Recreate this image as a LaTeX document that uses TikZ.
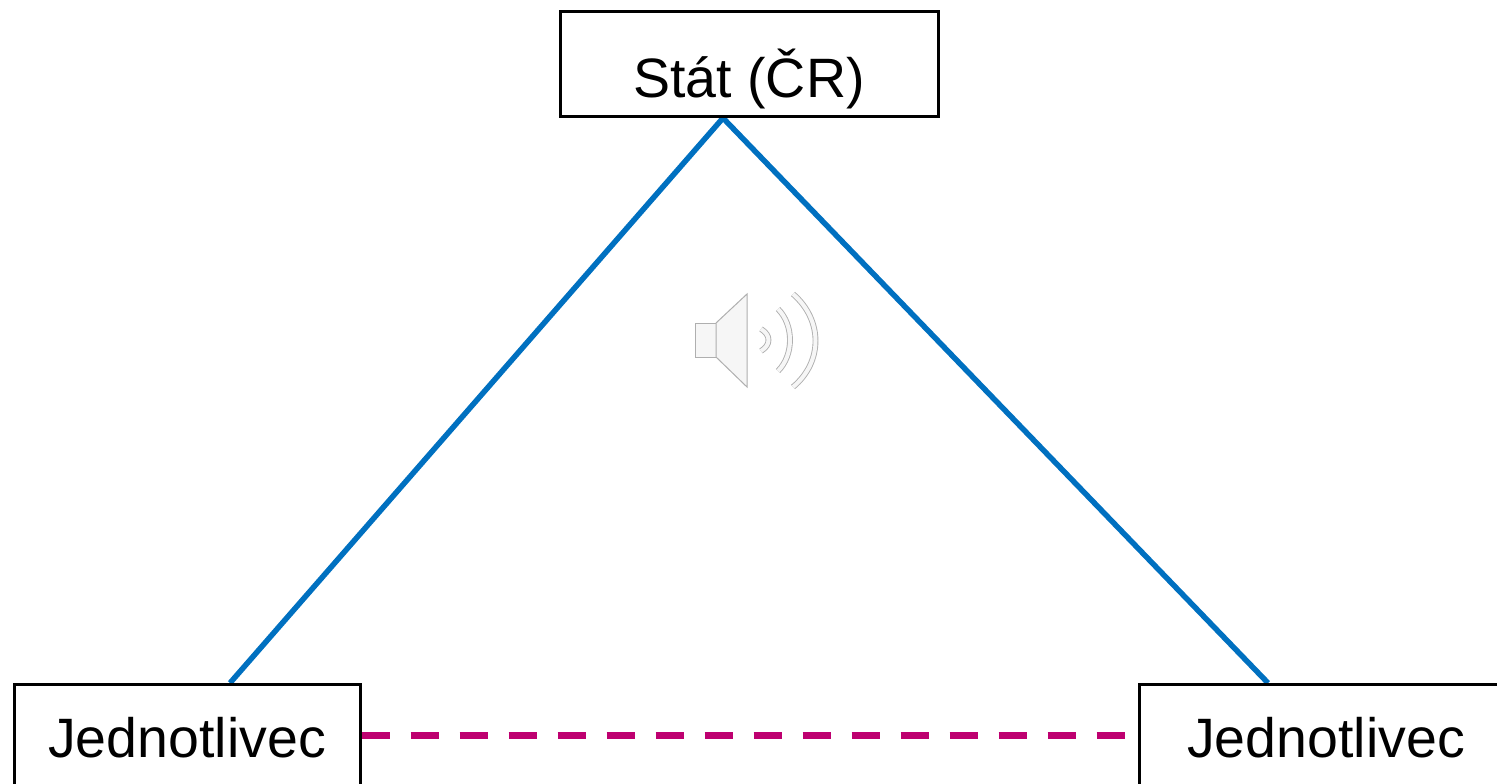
\documentclass[tikz,border=0pt]{standalone}
\usepackage{fontspec}
\setmainfont{Liberation Sans}
\usetikzlibrary{backgrounds}
\definecolor{lineblue}{RGB}{0,112,192}
\definecolor{linemag}{RGB}{190,0,112}
\definecolor{iconfill}{RGB}{246,246,246}
\definecolor{iconedge}{RGB}{175,175,175}
\begin{document}
\begin{tikzpicture}[x=1pt,y=-1pt,
  box/.style={draw=black, line width=3pt, fill=white, inner sep=0pt},
  lbl/.style={font=\fontsize{55.5}{60}\selectfont, anchor=base, inner sep=0pt},
  tie/.style={draw=lineblue, line width=5.5pt, line join=miter},
  peer/.style={draw=linemag, line width=7pt, dash pattern=on 28pt off 21pt},
  iconpart/.style={draw=iconedge, fill=iconfill, line width=1pt},
  wave/.style={draw=iconedge, double=iconfill, double distance=4pt, line width=0.9pt}
]
\useasboundingbox (0,0) rectangle (1497,784);

% boxes
\path (749,64) node[box, minimum width=378pt, minimum height=105pt] (state) {};
\path (187,738) node[box, minimum width=346pt, minimum height=107pt] (left) {};
\path (1326,738) node[box, minimum width=373pt, minimum height=107pt] (right) {};

% labels
\node[lbl] (statetext) at (749,97) {Stát (ČR)};
\node[lbl] (lefttext) at (187,757) {Jednotlivec};
\node[lbl] (righttext) at (1326,757) {Jednotlivec};

% connectors behind the boxes
\begin{scope}[on background layer]
\draw[tie] ([xshift=43pt]left.north) -- ([xshift=-26pt]state.south) -- ([xshift=-58pt]right.north);
\draw[peer] ([yshift=3pt]left.east) -- ([yshift=3pt]right.west);
\end{scope}

% speaker icon
\draw[iconpart] (695,323) rectangle (716,357);
\draw[iconpart] (716,323) -- (747,294) -- (747,387) -- (716,357) -- cycle;
\draw[wave] (761,329) .. controls (771,335) and (771,345) .. (761,351);
\draw[wave] (778,309) .. controls (794,325) and (794,355) .. (778,371);
\draw[wave] (793,294) .. controls (823,320) and (823,362) .. (793,387);
\end{tikzpicture}
\end{document}
